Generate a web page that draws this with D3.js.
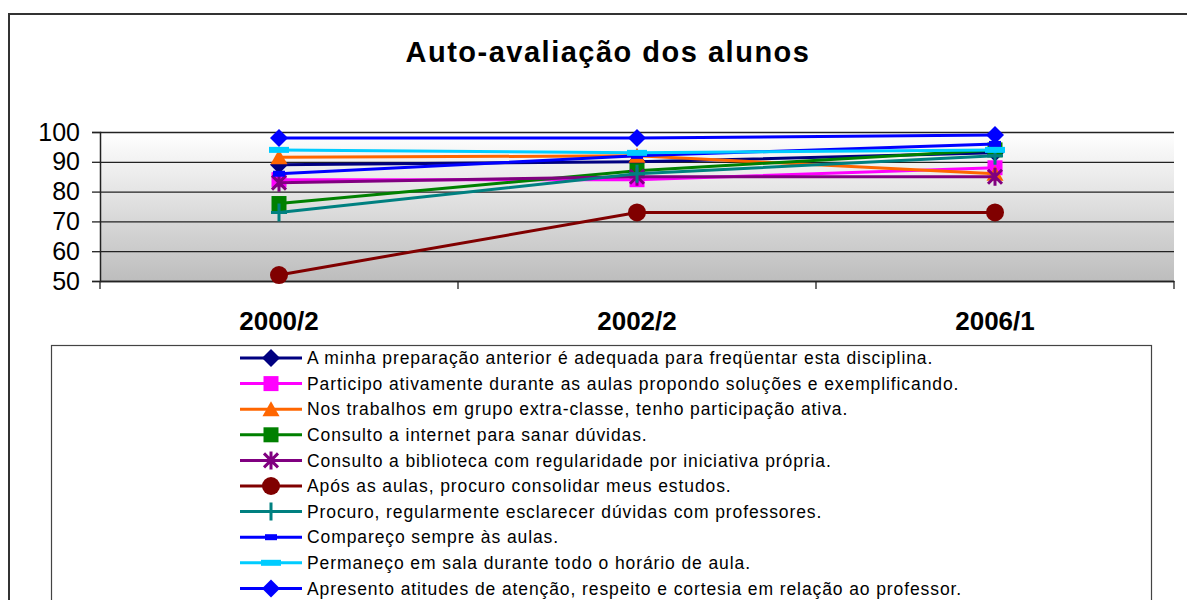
<!DOCTYPE html>
<html>
<head>
<meta charset="utf-8">
<script src="https://cdn.jsdelivr.net/npm/d3@7"></script>
<style>
  body { margin: 0; background: #fff; }
  text { font-family: "Liberation Sans", Arial, sans-serif; }
</style>
</head>
<body>
<div id="canvas"></div>
<script>
"use strict"

let categories = ["2000/2", "2002/2", "2006/1"]
let yTicks = [50, 60, 70, 80, 90, 100]

let seriesNames = [
  "A minha preparação anterior é adequada para freqüentar esta disciplina.",
  "Participo ativamente durante as aulas propondo soluções e exemplificando.",
  "Nos trabalhos em grupo extra-classe, tenho participação ativa.",
  "Consulto a internet para sanar dúvidas.",
  "Consulto a biblioteca com regularidade por iniciativa própria.",
  "Após as aulas, procuro consolidar meus estudos.",
  "Procuro, regularmente esclarecer dúvidas com professores.",
  "Compareço sempre às aulas.",
  "Permaneço em sala durante todo o horário de aula.",
  "Apresento atitudes de atenção, respeito e cortesia em relação ao professor."
]

let preparacao = [89, 90, 93]
let participo = [84, 84, 88]
let trabalhos = [91.5, 92, 86]
let internet = [76, 87, 94]
let biblioteca = [83, 85, 85]
let aposAulas = [52, 73, 73]
let procuro = [73, 86, 92]
let compareco = [86, 92, 96]
let permaneco = [94, 93, 94]
let apresento = [98, 98, 99]

let seriesValues = [preparacao, participo, trabalhos, internet, biblioteca,
  aposAulas, procuro, compareco, permaneco, apresento]

let colors = ["#000080", "#ff00ff", "#ff6600", "#008000", "#800080",
  "#800000", "#008080", "#0000ff", "#00ccff", "#0000ff"]
let markers = ["diamond", "square", "triangle", "square", "star",
  "circle", "plus", "dash", "wideDash", "diamond"]

let svgWidth = 1187
let svgHeight = 600

let drawing = d3.select("#canvas")
  .append("svg")
  .attr("width", svgWidth)
  .attr("height", svgHeight)

let defs = drawing.append("defs")
let grad = defs.append("linearGradient")
  .attr("id", "plotBg")
  .attr("x1", 0).attr("y1", 0).attr("x2", 0).attr("y2", 1)
grad.append("stop").attr("offset", "0%").attr("stop-color", "#ffffff")
grad.append("stop").attr("offset", "100%").attr("stop-color", "#bdbdbd")

// outer chart border (runs off the page right and bottom)
drawing.append("rect")
  .attr("x", 9)
  .attr("y", 14)
  .attr("width", 1240)
  .attr("height", 700)
  .attr("fill", "none")
  .attr("stroke", "#333")
  .attr("stroke-width", 2)

drawing.append("text")
  .attr("x", 608)
  .attr("y", 62)
  .attr("text-anchor", "middle")
  .attr("font-size", 29)
  .attr("letter-spacing", 1.5)
  .attr("font-weight", "bold")
  .text("Auto-avaliação dos alunos")

let x = d3.scaleBand().domain(categories).range([100, 1174])
let y = d3.scaleLinear().domain([50, 100]).range([281, 132])

drawing.append("rect")
  .attr("x", 100)
  .attr("y", y(100))
  .attr("width", 1074)
  .attr("height", y(50) - y(100))
  .attr("fill", "url(#plotBg)")

// gridlines
let grid = drawing.append("g")
  .attr("transform", "translate(100,0)")
  .call(d3.axisLeft(y).tickValues(yTicks).tickSize(-1074).tickFormat(""))
grid.select(".domain").remove()
grid.selectAll(".tick line").attr("stroke", "#222").attr("stroke-width", 1.3)

let yAxis = drawing.append("g")
  .attr("transform", "translate(100,0)")
  .call(d3.axisLeft(y).tickValues(yTicks).tickSize(8).tickPadding(12))
yAxis.select(".domain").attr("stroke", "#222").attr("stroke-width", 1.5)
yAxis.selectAll(".tick line").attr("stroke", "#222").attr("stroke-width", 1.3)
yAxis.selectAll(".tick text")
  .attr("font-size", 25)
  .attr("fill", "#000")
  .style("font-family", "'Liberation Sans', Arial, sans-serif")

let xAxis = drawing.append("g")
  .attr("transform", "translate(0,281)")
  .call(d3.axisBottom(x).tickSize(0).tickPadding(31))
xAxis.select(".domain").attr("stroke", "#222").attr("stroke-width", 1.5)
xAxis.selectAll(".tick text")
  .attr("font-size", 26)
  .attr("font-weight", "bold")
  .attr("fill", "#000")
  .style("font-family", "'Liberation Sans', Arial, sans-serif")

// x tick marks at category boundaries
let bounds = categories.map(c => x(c)).concat([x.range()[1]])
drawing.selectAll(".xTick")
  .data(bounds)
  .enter()
  .append("line")
  .attr("x1", d => d).attr("x2", d => d)
  .attr("y1", 281).attr("y2", 289)
  .attr("stroke", "#222")
  .attr("stroke-width", 1.3)

function drawMarker(g, type, color) {
  if (type == "diamond") {
    g.append("path").attr("d", "M0,-9L9,0L0,9L-9,0Z").attr("fill", color)
  } else if (type == "square") {
    g.append("rect").attr("x", -7.5).attr("y", -7.5).attr("width", 15).attr("height", 15).attr("fill", color)
  } else if (type == "triangle") {
    g.append("path").attr("d", "M0,-8L8.5,7L-8.5,7Z").attr("fill", color)
  } else if (type == "circle") {
    g.append("circle").attr("r", 9).attr("fill", color)
  } else if (type == "star") {
    g.append("path").attr("d", "M-7,-7L7,7M-7,7L7,-7M0,-9L0,9")
      .attr("stroke", color).attr("stroke-width", 3).attr("fill", "none")
  } else if (type == "plus") {
    g.append("path").attr("d", "M-8,0L8,0M0,-9L0,9")
      .attr("stroke", color).attr("stroke-width", 3).attr("fill", "none")
  } else if (type == "dash") {
    g.append("rect").attr("x", -6).attr("y", -3).attr("width", 12).attr("height", 6).attr("fill", color)
  } else if (type == "wideDash") {
    g.append("rect").attr("x", -10).attr("y", -3).attr("width", 20).attr("height", 6).attr("fill", color)
  }
}

let line = d3.line()
  .x((d, i) => x(categories[i]) + x.bandwidth() / 2)
  .y(d => y(d))

seriesValues.forEach((vals, s) => {
  drawing.append("path")
    .attr("d", line(vals))
    .attr("fill", "none")
    .attr("stroke", colors[s])
    .attr("stroke-width", 3)
  vals.forEach((v, i) => {
    let g = drawing.append("g")
      .attr("transform", `translate(${x(categories[i]) + x.bandwidth() / 2},${y(v)})`)
    drawMarker(g, markers[s], colors[s])
  })
})

// legend
drawing.append("rect")
  .attr("x", 51.5)
  .attr("y", 345.5)
  .attr("width", 1100)
  .attr("height", 300)
  .attr("fill", "#fff")
  .attr("stroke", "#444")
  .attr("stroke-width", 1.2)

seriesNames.forEach((name, s) => {
  let ly = 358 + s * 25.6
  drawing.append("line")
    .attr("x1", 240).attr("x2", 302)
    .attr("y1", ly).attr("y2", ly)
    .attr("stroke", colors[s])
    .attr("stroke-width", 3)
  let g = drawing.append("g").attr("transform", `translate(271,${ly})`)
  drawMarker(g, markers[s], colors[s])
  drawing.append("text")
    .attr("x", 307)
    .attr("y", ly)
    .attr("dy", "0.35em")
    .attr("font-size", 17.5)
    .attr("letter-spacing", 0.9)
    .text(name)
})
</script>
</body>
</html>
